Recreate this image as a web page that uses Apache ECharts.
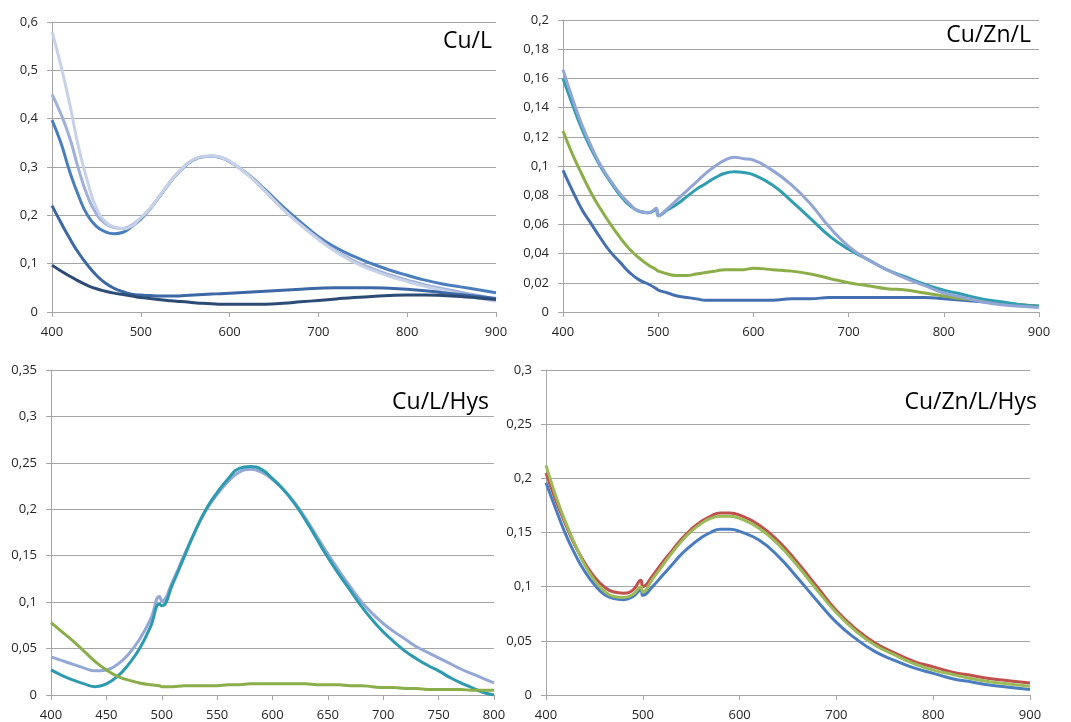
<!DOCTYPE html>
<html>
<head>
<meta charset="utf-8">
<script src="https://cdn.jsdelivr.net/npm/echarts@6/dist/echarts.min.js"></script>
<style>
html,body{margin:0;padding:0;background:#fff;}
#chart{width:1071px;height:722px;}
</style>
</head>
<body>
<div id="chart"></div>
<script>
// ---------- Panel titles ----------
var panelTitles = ['Cu/L', 'Cu/Zn/L', 'Cu/L/Hys', 'Cu/Zn/L/Hys'];

// ---------- Panel 1: Cu/L ----------
var x1 = [400,410,420,430,440,450,460,470,480,490,500,510,520,530,540,550,560,570,580,590,600,620,640,660,680,700,720,740,760,780,800,820,840,860,880,900];
var cuL_1 = [0.397,0.35,0.29,0.24,0.2,0.177,0.166,0.162,0.165,0.177,0.192,0.212,0.236,0.261,0.284,0.302,0.315,0.321,0.322,0.319,0.311,0.286,0.253,0.218,0.186,0.156,0.133,0.115,0.1,0.087,0.076,0.066,0.058,0.052,0.046,0.04];
var cuL_2 = [0.45,0.41,0.36,0.295,0.24,0.203,0.183,0.175,0.173,0.18,0.195,0.213,0.237,0.262,0.285,0.303,0.316,0.322,0.323,0.32,0.312,0.285,0.25,0.213,0.181,0.152,0.126,0.106,0.09,0.077,0.066,0.056,0.048,0.041,0.034,0.027];
var cuL_3 = [0.58,0.51,0.43,0.34,0.27,0.215,0.187,0.176,0.172,0.178,0.195,0.213,0.237,0.262,0.285,0.303,0.316,0.322,0.323,0.32,0.312,0.285,0.25,0.213,0.18,0.15,0.124,0.103,0.087,0.074,0.063,0.053,0.045,0.037,0.029,0.022];
var cuL_4 = [0.22,0.185,0.152,0.122,0.097,0.076,0.06,0.049,0.042,0.037,0.035,0.034,0.033,0.033,0.033,0.034,0.035,0.036,0.037,0.038,0.039,0.041,0.043,0.045,0.047,0.049,0.05,0.05,0.05,0.049,0.047,0.044,0.04,0.036,0.032,0.028];
var cuL_5 = [0.097,0.085,0.074,0.064,0.055,0.048,0.043,0.039,0.036,0.033,0.03,0.028,0.026,0.024,0.022,0.021,0.019,0.018,0.017,0.016,0.016,0.016,0.016,0.018,0.021,0.024,0.027,0.03,0.032,0.034,0.035,0.035,0.034,0.032,0.029,0.026];

// ---------- Panel 2: Cu/Zn/L ----------
var x2 = [400,410,420,430,440,450,460,470,480,490,498,500,510,520,530,540,550,560,570,580,590,600,620,640,660,680,700,720,740,760,780,800,820,840,860,880,900];
var cuZnL_blue = [0.097,0.083,0.07,0.06,0.05,0.041,0.034,0.027,0.022,0.019,0.016,0.015,0.013,0.011,0.01,0.009,0.008,0.008,0.008,0.008,0.008,0.008,0.008,0.009,0.009,0.01,0.01,0.01,0.01,0.01,0.01,0.009,0.008,0.007,0.006,0.005,0.004];
var cuZnL_green = [0.124,0.108,0.094,0.081,0.07,0.06,0.051,0.043,0.037,0.032,0.029,0.028,0.026,0.025,0.025,0.026,0.027,0.028,0.029,0.029,0.029,0.03,0.029,0.028,0.026,0.023,0.02,0.018,0.016,0.015,0.013,0.011,0.009,0.008,0.006,0.005,0.004];
var cuZnL_teal = [0.16,0.142,0.125,0.111,0.099,0.089,0.08,0.073,0.069,0.068,0.07,0.066,0.07,0.074,0.079,0.084,0.088,0.092,0.095,0.096,0.0955,0.094,0.087,0.076,0.064,0.052,0.043,0.036,0.029,0.024,0.019,0.015,0.012,0.009,0.007,0.005,0.004];
var cuZnL_lilac = [0.166,0.146,0.128,0.113,0.1,0.09,0.081,0.074,0.069,0.068,0.071,0.066,0.071,0.077,0.083,0.089,0.095,0.1,0.104,0.106,0.105,0.104,0.097,0.087,0.074,0.058,0.045,0.036,0.029,0.023,0.018,0.013,0.01,0.007,0.005,0.004,0.003];

// ---------- Panel 3: Cu/L/Hys ----------
var x3 = [400,410,420,430,440,450,460,470,480,490,498,500,510,520,530,540,550,560,570,580,590,600,610,620,630,640,650,660,670,680,690,700,710,720,730,740,750,760,770,780,790,800];
var cuLHys_lilac = [0.041,0.037,0.033,0.029,0.026,0.027,0.033,0.044,0.06,0.082,0.106,0.101,0.123,0.15,0.176,0.199,0.216,0.23,0.24,0.243,0.24,0.232,0.221,0.207,0.19,0.171,0.152,0.134,0.117,0.101,0.088,0.077,0.068,0.06,0.052,0.046,0.04,0.034,0.028,0.023,0.018,0.013];
var cuLHys_teal = [0.027,0.021,0.016,0.012,0.009,0.012,0.02,0.033,0.05,0.074,0.098,0.096,0.12,0.148,0.176,0.2,0.218,0.233,0.244,0.246,0.243,0.233,0.221,0.206,0.188,0.168,0.148,0.13,0.113,0.096,0.081,0.068,0.057,0.047,0.039,0.032,0.026,0.019,0.013,0.008,0.003,0.0];
var cuLHys_green = [0.078,0.068,0.058,0.047,0.036,0.027,0.02,0.016,0.013,0.011,0.01,0.009,0.009,0.01,0.01,0.01,0.01,0.011,0.011,0.012,0.012,0.012,0.012,0.012,0.012,0.011,0.011,0.011,0.01,0.01,0.009,0.008,0.008,0.007,0.007,0.006,0.006,0.006,0.006,0.005,0.005,0.005];

// ---------- Panel 4: Cu/Zn/L/Hys ----------
var x4 = [400,410,420,430,440,450,460,470,480,490,498,500,510,520,530,540,550,560,570,580,590,600,620,640,660,680,700,720,740,760,780,800,820,840,860,880,900];
var cuZnLHys_blue = [0.196,0.172,0.149,0.13,0.114,0.102,0.093,0.089,0.088,0.091,0.097,0.092,0.1,0.11,0.12,0.13,0.138,0.145,0.15,0.153,0.153,0.151,0.143,0.128,0.108,0.087,0.067,0.052,0.04,0.032,0.025,0.02,0.015,0.012,0.009,0.007,0.005];
var cuZnLHys_red = [0.205,0.18,0.158,0.138,0.122,0.109,0.1,0.095,0.094,0.097,0.106,0.1,0.11,0.122,0.133,0.144,0.153,0.16,0.165,0.168,0.168,0.166,0.157,0.142,0.122,0.1,0.078,0.061,0.048,0.039,0.031,0.026,0.021,0.018,0.015,0.013,0.011];
var cuZnLHys_green = [0.212,0.184,0.16,0.139,0.12,0.106,0.096,0.091,0.09,0.093,0.1,0.095,0.107,0.119,0.131,0.142,0.151,0.158,0.163,0.165,0.165,0.163,0.154,0.139,0.119,0.097,0.076,0.059,0.046,0.037,0.029,0.023,0.019,0.015,0.012,0.01,0.008];

// ---------- build ----------
function pairs(xs, ys){ return xs.map(function(x,i){ return [x, ys[i]]; }); }
function fmt(v){ return String(parseFloat(Number(v).toFixed(4))).replace('.', ','); }

var grids = [
  {left:52, top:22, width:444, height:290},
  {left:563, top:20, width:476, height:292},
  {left:51, top:370, width:443, height:328},
  {left:546, top:370, width:484, height:328}
];
var xRanges = [[400,900,100],[400,900,100],[400,800,50],[400,900,100]];
var yRanges = [[0,0.6,0.1],[0,0.2,0.02],[0,0.35,0.05],[0,0.3,0.05]];
var gridColor = '#a6a6a6';
var labelColor = '#262626';
var fontFam = '"Open Sans", "Liberation Sans", sans-serif';

var xAxes = xRanges.map(function(r, i){
  return {
    type:'value', gridIndex:i, min:r[0], max:r[1], interval:r[2],
    axisLine:{show:true, lineStyle:{color:gridColor, width:1}},
    axisTick:{show:true, length:5, lineStyle:{color:gridColor}},
    splitLine:{show:false},
    axisLabel:{color:labelColor, fontSize:13, fontFamily:fontFam, margin:14}
  };
});
var yAxes = yRanges.map(function(r, i){
  return {
    type:'value', gridIndex:i, min:r[0], max:r[1], interval:r[2],
    axisLine:{show:true, lineStyle:{color:gridColor, width:1}},
    axisTick:{show:true, length:5, lineStyle:{color:gridColor}},
    splitLine:{show:true, lineStyle:{color:gridColor, width:1}},
    axisLabel:{color:labelColor, fontSize:13, fontFamily:fontFam, margin:14, formatter:fmt}
  };
});

function line(idx, xs, ys, color){
  return {
    type:'line', xAxisIndex:idx, yAxisIndex:idx, data:pairs(xs, ys),
    showSymbol:false, symbol:'none', smooth:0.5,
    lineStyle:{color:color, width:3}, itemStyle:{color:color}, animation:false
  };
}

var series = [
  line(0, x1, cuL_1, '#4A7EBE'),
  line(0, x1, cuL_2, '#9FB1DA'),
  line(0, x1, cuL_3, '#C7D2E8'),
  line(0, x1, cuL_4, '#3D68A6'),
  line(0, x1, cuL_5, '#2C4B75'),
  line(1, x2, cuZnL_blue, '#4470B2'),
  line(1, x2, cuZnL_green, '#8BAE48'),
  line(1, x2, cuZnL_teal, '#319DB1'),
  line(1, x2, cuZnL_lilac, '#92A6D5'),
  line(2, x3, cuLHys_lilac, '#94A8D6'),
  line(2, x3, cuLHys_teal, '#2E9AB0'),
  line(2, x3, cuLHys_green, '#8AAE4A'),
  line(3, x4, cuZnLHys_blue, '#4A7DC0'),
  line(3, x4, cuZnLHys_red, '#C0504D'),
  line(3, x4, cuZnLHys_green, '#9BBB59')
];

var titlePos = [
  {right:1071-492, top:30},
  {right:1071-1031, top:24},
  {right:1071-489, top:391},
  {right:1071-1037, top:391}
];
var titles = panelTitles.map(function(t, i){
  return {
    text:t, right:titlePos[i].right, top:titlePos[i].top, padding:0,
    textStyle:{fontFamily:fontFam, fontSize:23, fontWeight:'normal', color:'#000'}
  };
});

var chart = echarts.init(document.getElementById('chart'), null, {renderer:'canvas'});
chart.setOption({
  animation:false,
  backgroundColor:'#ffffff',
  title:titles,
  grid:grids,
  xAxis:xAxes,
  yAxis:yAxes,
  series:series
});
</script>
</body>
</html>
